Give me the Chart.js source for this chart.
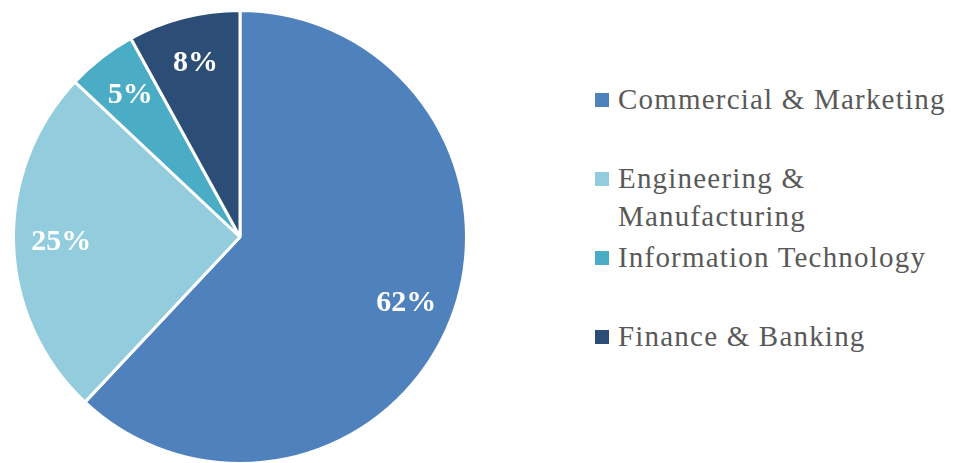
<!DOCTYPE html>
<html>
<head>
<meta charset="utf-8">
<script src="https://cdn.jsdelivr.net/npm/chart.js@4.4.1/dist/chart.umd.min.js"></script>
<style>
  html, body { margin: 0; padding: 0; background: #ffffff; }
  #wrap { position: relative; width: 956px; height: 463px; overflow: hidden; }
  #pieBox { position: absolute; left: 0; top: 9px; width: 480px; height: 456px; }
  #legend { position: absolute; left: 595px; top: 80px; width: 355px;
    font-family: "Liberation Serif", "DejaVu Serif", serif; font-size: 29px;
    letter-spacing: 1.2px; color: #595959; }
  .item { position: relative; height: 79px; padding-left: 23px; line-height: 38px; }
  .sw { position: absolute; left: 0; top: 13px; width: 14px; height: 14px; }
</style>
</head>
<body>
<div id="wrap">
  <div id="pieBox"><canvas id="pie"></canvas></div>
  <div id="legend"></div>
</div>
<script>
const categories = ["Commercial & Marketing", "Engineering & Manufacturing", "Information Technology", "Finance & Banking"];
const shares = [62, 25, 5, 8];
const sliceColors = ["#4F81BD", "#93CDDD", "#4BACC6", "#2C4D75"];

// Percent labels drawn inside each slice
const sliceLabels = {
  id: "sliceLabels",
  afterDatasetsDraw(chart) {
    const ctx = chart.ctx;
    const meta = chart.getDatasetMeta(0);
    ctx.save();
    ctx.fillStyle = "#ffffff";
    ctx.font = "bold 30px 'Liberation Serif', serif";
    ctx.textAlign = "center";
    ctx.textBaseline = "middle";
    meta.data.forEach((arc, i) => {
      const p = arc.getProps(["x", "y", "startAngle", "endAngle", "outerRadius"], true);
      const mid = (p.startAngle + p.endAngle) / 2;
      const r = p.outerRadius * 0.79;
      ctx.fillText(shares[i] + "%", p.x + Math.cos(mid) * r, p.y + Math.sin(mid) * r);
    });
    ctx.restore();
  }
};

new Chart(document.getElementById("pie"), {
  type: "pie",
  data: {
    labels: categories,
    datasets: [{
      data: shares,
      backgroundColor: sliceColors,
      borderColor: "#ffffff",
      borderWidth: 3,
      hoverOffset: 0
    }]
  },
  options: {
    responsive: true,
    maintainAspectRatio: false,
    animation: false,
    layout: { padding: 0 },
    plugins: { legend: { display: false }, tooltip: { enabled: false } }
  },
  plugins: [sliceLabels]
});

// Legend built from the same categories and colours
const legend = document.getElementById("legend");
categories.forEach((name, i) => {
  const item = document.createElement("div");
  item.className = "item";
  const sw = document.createElement("span");
  sw.className = "sw";
  sw.style.background = sliceColors[i];
  item.appendChild(sw);
  item.appendChild(document.createTextNode(name));
  legend.appendChild(item);
});
</script>
</body>
</html>
